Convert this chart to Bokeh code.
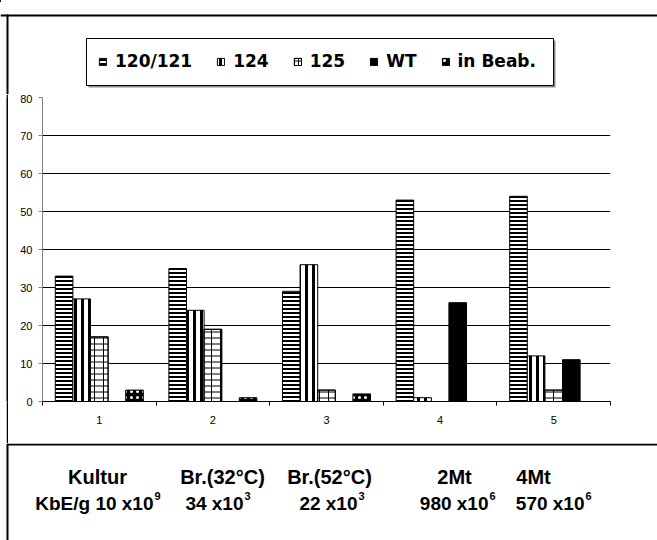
from bokeh.plotting import figure
from bokeh.models import Range1d, FixedTicker, Legend, LegendItem, Spacer
from bokeh.layouts import column, row
from bokeh.core.properties import value
from bokeh.embed import file_html
from bokeh.resources import INLINE

# ---- data ----
categories = ["1", "2", "3", "4", "5"]
series_names = ["120/121", "124", "125", "WT", "in Beab."]
v_120_121 = [33, 35, 29, 53, 54]
v_124 = [27, 24, 36, 1, 12]
v_125 = [17, 19, 3, 0, 3]
v_wt = [0, 0, 0, 26, 11]
v_in_beab = [3, 1, 2, 0, 0]
y_ticks = [0, 10, 20, 30, 40, 50, 60, 70, 80]
row1_labels = ["Kultur", "Br.(32°C)", "Br.(52°C)", "2Mt", "4Mt"]
row2_labels = ["KbE/g 10 x10", "34 x10", "22 x10", "980 x10", "570 x10"]
row2_exponents = ["9", "3", "3", "6", "6"]

W, H = 657, 540
TOP_H, MID_H = 94, 349
BOT_H = H - TOP_H - MID_H

# bar styles (shared by chart bars and legend swatches)
styles = [
    dict(fill_color="white", hatch_pattern="horizontal_line", hatch_color="black", hatch_scale=4, hatch_weight=2),
    dict(fill_color="white", hatch_pattern="vertical_line", hatch_color="black", hatch_scale=7, hatch_weight=3),
    dict(fill_color="white", hatch_pattern="horizontal_line", hatch_color="black", hatch_scale=6, hatch_weight=1),
    dict(fill_color="black"),
    dict(fill_color="black", hatch_pattern="dot", hatch_color="white", hatch_scale=6, hatch_weight=2),
]
brick_overlay = dict(fill_alpha=0, hatch_pattern="vertical_line", hatch_color="black", hatch_scale=9, hatch_weight=1)


def bare(w, h, xr, yr, bg="white"):
    f = figure(width=w, height=h, output_backend="svg", toolbar_location=None, min_border=0,
               x_range=xr, y_range=yr, x_axis_location=None, y_axis_location=None)
    f.outline_line_color = None
    f.grid.visible = False
    f.background_fill_color = bg
    f.border_fill_color = bg
    return f


# ---- top strip: frame line + legend (coordinates = page pixels) ----
top = bare(W, TOP_H, Range1d(0, W), Range1d(TOP_H, 0))
top.quad(left=[0], right=[W], top=[14], bottom=[16], fill_color="black", line_color=None)
top.quad(left=[6], right=[8], top=[14], bottom=[TOP_H], fill_color="black", line_color=None)
top.quad(left=[88], right=[555], top=[40], bottom=[87], fill_color="#8c8c8c", line_color=None)
top.quad(left=[86], right=[553], top=[38], bottom=[85], fill_color="white", line_color="black", line_width=1)

# legend swatches: one bar each, placed outside the visible range
swatches = []
for k, st in enumerate(styles):
    rs = [top.vbar(x=[-100], top=[1], width=1, bottom=0, line_color="black", line_width=1, **st)]
    if k == 2:
        rs.append(top.vbar(x=[-100], top=[1], width=1, bottom=0, line_color="black", line_width=1,
                           **brick_overlay))
    swatches.append(rs)

legend = Legend(items=[LegendItem(label=n, renderers=rs) for n, rs in zip(series_names, swatches)],
                orientation="horizontal", location=(98, 23), padding=0, margin=0, spacing=24,
                glyph_width=9, glyph_height=9, label_standoff=8, label_height=20,
                label_text_font="DejaVu Sans", label_text_font_style="bold", label_text_font_size="17px",
                label_text_color="black", border_line_color=None, background_fill_alpha=0)
top.add_layout(legend, "center")

# ---- left frame line beside the chart ----
left_line = bare(2, MID_H, Range1d(0, 1), Range1d(0, 1), bg="black")

# ---- main chart ----
p = figure(width=W - 8, height=MID_H, output_backend="svg", toolbar_location=None,
           x_range=Range1d(0.5, len(categories) + 0.5), y_range=Range1d(0, 80),
           min_border_left=34, min_border_right=47, min_border_top=3, min_border_bottom=42)
p.outline_line_color = None
p.background_fill_color = "white"
p.border_fill_color = "white"

xs = list(range(1, len(categories) + 1))
bw = 0.155


def pos(k):
    return [x + (k - 2) * bw for x in xs]


values = [v_120_121, v_124, v_125, v_wt, v_in_beab]
for k, (vals, st) in enumerate(zip(values, styles)):
    p.vbar(x=pos(k), top=vals, width=bw, bottom=0, line_color="black", line_width=1, **st)
    if k == 2:
        p.vbar(x=pos(k), top=vals, width=bw, bottom=0, line_color="black", line_width=1, **brick_overlay)

p.xaxis.ticker = FixedTicker(ticks=xs, minor_ticks=[x - 0.5 for x in xs] + [xs[-1] + 0.5])
p.xaxis.major_label_overrides = {x: c for x, c in zip(xs, categories)}
p.xaxis.major_tick_line_color = None
p.xaxis.major_tick_out = 0
p.xaxis.major_tick_in = 0
p.xaxis.minor_tick_out = 4
p.xaxis.minor_tick_in = 0
p.xaxis.minor_tick_line_color = "black"
p.xaxis.axis_line_color = "black"
p.xaxis.major_label_standoff = 10
p.xaxis.major_label_text_font = "Liberation Sans"
p.xaxis.major_label_text_font_size = "11px"
p.xaxis.major_label_text_color = "black"

p.yaxis.ticker = FixedTicker(ticks=y_ticks)
p.yaxis.axis_line_color = "#808080"
p.yaxis.major_tick_line_color = "#808080"
p.yaxis.major_tick_out = 4
p.yaxis.major_tick_in = 0
p.yaxis.minor_tick_line_color = None
p.yaxis.major_label_standoff = 6
p.yaxis.major_label_text_font = "Liberation Sans"
p.yaxis.major_label_text_font_size = "11px"
p.yaxis.major_label_text_color = "black"

p.xgrid.visible = False
p.ygrid.ticker = FixedTicker(ticks=y_ticks[1:])
p.ygrid.grid_line_color = "black"
p.ygrid.grid_line_width = 1

# ---- bottom table (coordinates = page pixels) ----
y0 = TOP_H + MID_H
t = bare(W, BOT_H, Range1d(0, W), Range1d(H, y0))
t.quad(left=[7], right=[W], top=[y0], bottom=[y0 + 2], fill_color="black", line_color=None)
t.quad(left=[6], right=[8], top=[y0], bottom=[H], fill_color="black", line_color=None)

row1_x = [97, 222, 329, 454, 533]
row2_end = [153, 243, 357, 488, 584]
t.text(x=row1_x, y=[476] * 5, text=row1_labels, text_align="center", text_baseline="alphabetic",
       text_font=value("Liberation Sans"), text_font_style="bold", text_font_size="20px", text_color="black")
t.text(x=row2_end, y=[503] * 5, text=row2_labels, text_align="right", text_baseline="alphabetic",
       text_font=value("Liberation Sans"), text_font_style="bold", text_font_size="19px", text_color="black")
t.text(x=[x + 1 for x in row2_end], y=[495] * 5, text=row2_exponents, text_align="left",
       text_baseline="alphabetic", text_font=value("Liberation Sans"), text_font_style="bold",
       text_font_size="11px", text_color="black")

layout = column(top, row(Spacer(width=6, height=MID_H), left_line, p), t)

open("out.html", "w").write(file_html(layout, INLINE))
